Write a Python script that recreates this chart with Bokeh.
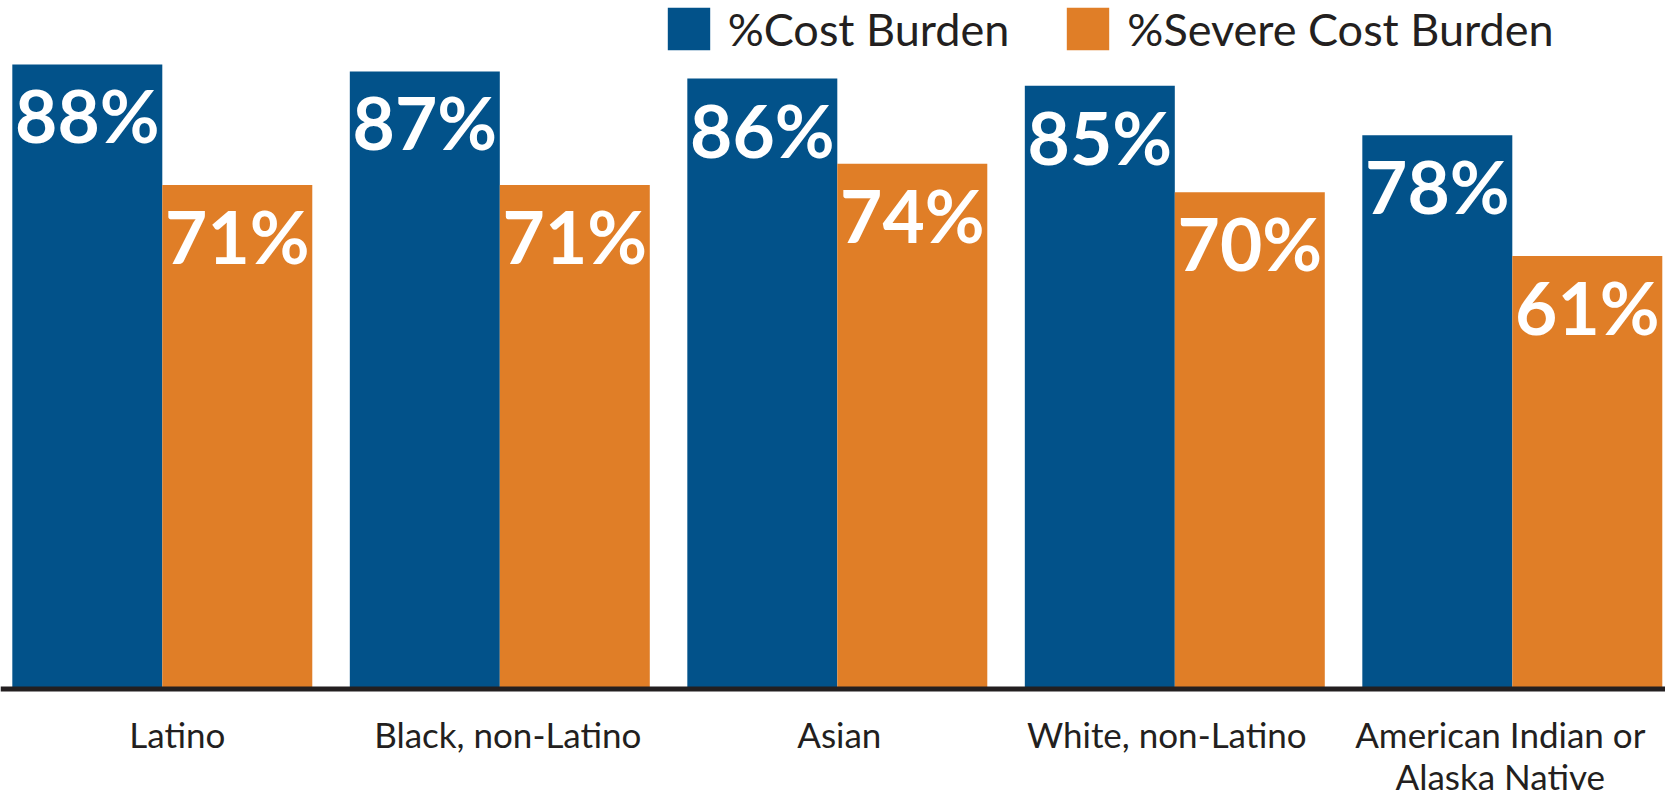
from bokeh.plotting import figure
from bokeh.models import ColumnDataSource, Range1d, Legend, LegendItem, Span
from bokeh.core.properties import value
from bokeh.embed import file_html
from bokeh.resources import INLINE

categories = ["Latino", "Black, non-Latino", "Asian", "White, non-Latino",
              "American Indian or\nAlaska Native"]
cost_burden = [88, 87, 86, 85, 78]
severe_cost_burden = [71, 71, 74, 70, 61]
series_names = ["%Cost Burden", "%Severe Cost Burden"]

# styling: horizontal nudge (px) of each category label, as in the original
label_nudge = [15, 8, 2, -8, -12]

BLUE = "#02528A"
ORANGE = "#E07E27"
DARK = "#231F20"

idx = list(range(len(categories)))
half = 0.2222
bw = 0.4444

src = ColumnDataSource(dict(
    x=idx,
    cat=categories,
    nudge=label_nudge,
    x_cb=[i - half for i in idx],
    x_sc=[i + half for i in idx],
    cb=cost_burden,
    sc=severe_cost_burden,
    cb_lbl=[f"{v}%" for v in cost_burden],
    sc_lbl=[f"{v}%" for v in severe_cost_burden],
))

W, H = 1665, 800
p = figure(width=W, height=H,
           x_range=Range1d(-0.4794, 4.4539), y_range=Range1d(-15.71, 97.0),
           output_backend="svg", toolbar_location=None,
           x_axis_location=None, y_axis_location=None,
           min_border=0, min_border_left=0, min_border_right=0,
           min_border_top=0, min_border_bottom=0)
p.outline_line_color = None
p.xgrid.visible = False
p.ygrid.visible = False
p.background_fill_color = "white"
p.border_fill_color = "white"

r1 = p.vbar(x="x_cb", top="cb", bottom=0, width=bw, source=src,
            fill_color=BLUE, line_color=None)
r2 = p.vbar(x="x_sc", top="sc", bottom=0, width=bw, source=src,
            fill_color=ORANGE, line_color=None)

p.add_layout(Span(location=0, dimension="width", line_color=DARK, line_width=5))

common = dict(text_color="white", text_font=value("Lato"), text_font_style="bold",
              text_font_size="73px", text_align="center",
              text_baseline="alphabetic", y_offset=51, source=src)
p.text(x="x_cb", y="cb", text="cb_lbl", **common)
p.text(x="x_sc", y="sc", text="sc_lbl", **common)

p.text(x="x", y=0, text="cat", source=src, x_offset="nudge", text_color=DARK,
       text_font=value("Lato"), text_font_size="35px",
       text_align="center", text_baseline="top", y_offset=24,
       text_line_height=1.0)

legend = Legend(items=[LegendItem(label=series_names[0], renderers=[r1]),
                       LegendItem(label=series_names[1], renderers=[r2])],
                orientation="horizontal", location=(661.7, H - 53 - 2.5),
                glyph_width=53, glyph_height=53, label_height=53,
                label_standoff=13, spacing=52, padding=0, margin=0,
                border_line_color=None, background_fill_alpha=0,
                label_text_font="Lato", label_text_font_size="45px",
                label_text_color=DARK, label_text_baseline="middle")
p.add_layout(legend, "center")

open("out.html", "w").write(file_html(p, INLINE))
